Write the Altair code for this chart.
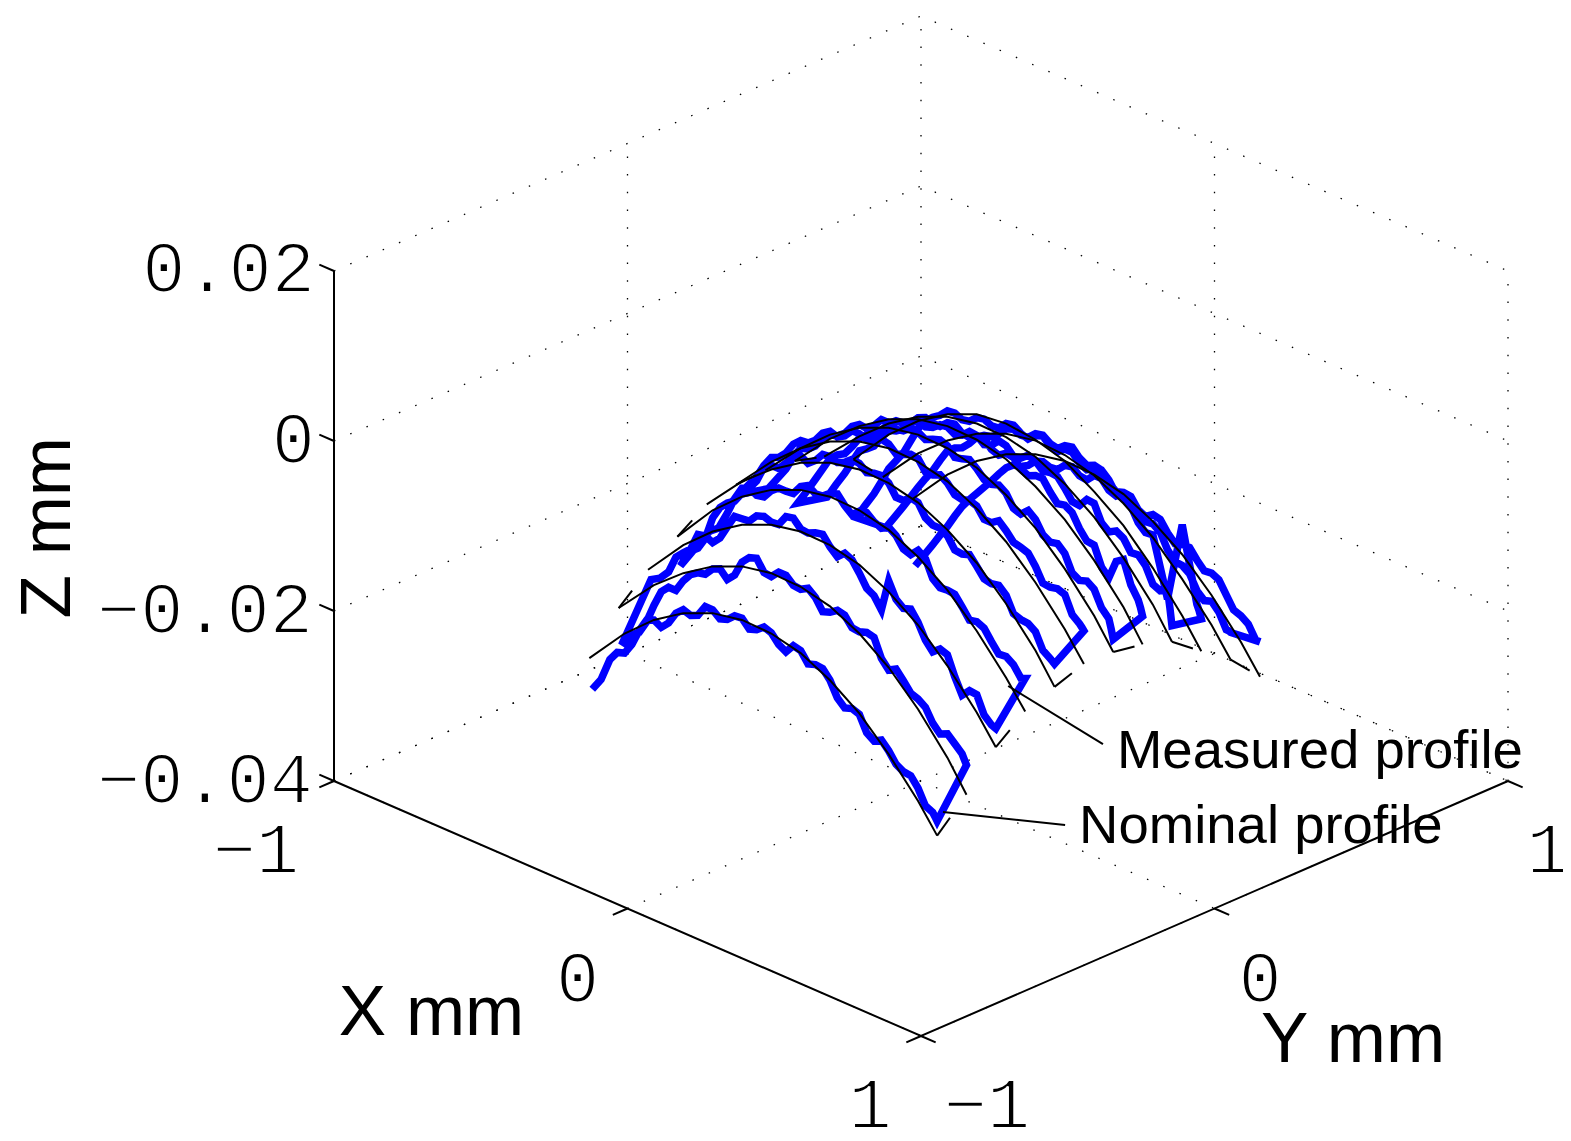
import altair as alt
import pandas as pd

# ---- axis ticks (mm) ----
x_ticks = [-1, 0, 1]
y_ticks = [-1, 0, 1]
z_ticks = [-0.04, -0.02, 0, 0.02]

# ---- scan lines: one fixed Y per profile ----
profile_y = [-0.5, -0.4, -0.3, -0.2, -0.1, 0.0, 0.1, 0.2, 0.3, 0.4, 0.5, 0.6]

# ---- nominal profile, z in 0.1 um ----
nominal_x = [-0.63, -0.51, -0.41, -0.31, -0.21, -0.11, -0.01, 0.09, 0.19, 0.29, 0.39, 0.49, 0.555]
nominal_01 = [-277, -230, -199, -176, -161, -154, -155, -163, -180, -204, -237, -277, -308]
nominal_02 = [-233, -188, -159, -136, -121, -114, -115, -123, -140, -165, -199, -241, -275]
nominal_03 = [-203, -156, -125, -102, -87, -80, -81, -89, -106, -130, -163, -203, -234]
nominal_04 = [-179, -130, -99, -76, -61, -54, -55, -63, -80, -104, -137, -177, -207]
nominal_05 = [-156, -111, -82, -59, -44, -37, -38, -46, -63, -87, -120, -160, -193]
nominal_06 = [-148, -103, -72, -49, -34, -27, -28, -36, -53, -77, -110, -150, -181]
nominal_07 = [-146, -102, -71, -48, -33, -26, -27, -35, -52, -76, -109, -149, -182]
nominal_08 = [-150, -106, -76, -53, -38, -31, -32, -40, -57, -81, -114, -154, -188]
nominal_09 = [-160, -118, -88, -65, -50, -43, -44, -52, -69, -93, -126, -166, -200]
nominal_10 = [-178, -131, -100, -77, -62, -58, -62, -72, -93, -118, -153, -194, -226]
nominal_11 = [-214, -168, -138, -115, -100, -93, -95, -104, -122, -147, -181, -220, -251]
nominal_12 = [-255, -208, -177, -154, -139, -132, -133, -141, -158, -182, -215, -255, -286]

# ---- measured profile, z in 0.1 um ----
measured_x = [-0.62, -0.59, -0.56, -0.535, -0.51, -0.485, -0.46, -0.435, -0.41, -0.385, -0.36, -0.335, -0.31,
              -0.285, -0.26, -0.235, -0.21, -0.185, -0.16, -0.135, -0.11, -0.085, -0.06, -0.035, -0.01,
              0.015, 0.04, 0.065, 0.09, 0.115, 0.14, 0.165, 0.19, 0.215, 0.24, 0.265, 0.29, 0.315, 0.34,
              0.365, 0.39, 0.415, 0.44, 0.465, 0.49, 0.515, 0.54, 0.548, 0.555]
measured_01 = [-312, -296, -268, -256, -253, -239, -219, -203, -199, -204, -195, -180, -172, -175, -171, -157, -157, -164, -161, -153, -152, -161, -158, -151, -154, -164, -169, -158, -160, -172, -169, -170, -180, -197, -205, -202, -205, -223, -229, -224, -233, -245, -250, -251, -262, -279, -283, -287, -291]
measured_02 = [-275, -259, -251, -235, -212, -192, -183, -183, -168, -157, -151, -149, -139, -135, -144, -135, -116, -107, -104, -117, -118, -109, -109, -117, -118, -113, -120, -133, -130, -124, -126, -137, -138, -135, -137, -158, -168, -163, -173, -184, -187, -193, -208, -217, -213, -221, -229, -235, -240]
measured_03 = [-213, -207, -195, -174, -165, -157, -136, -134, -138, -129, -112, -96, -95, -94, -84, -81, -84, -83, -70, -68, -77, -78, -74, -72, -83, -91, -83, -87, -99, -113, -118, -131, -93, -111, -118, -115, -127, -144, -154, -147, -150, -172, -190, -181, -182, -202, -210, -211, -212]
measured_04 = [-212, -191, -182, -167, -139, -123, -114, -108, -95, -85, -90, -88, -77, -70, -70, -69, -57, -52, -58, -57, -50, -47, -57, -64, -56, -54, -61, -65, -60, -66, -78, -81, -72, -78, -98, -105, -104, -105, -116, -128, -126, -130, -142, -153, -152, -158, -170, -169, -168]
measured_05 = [-186, -178, -156, -135, -119, -115, -103, -83, -77, -77, -67, -56, -51, -56, -49, -38, -37, -40, -36, -29, -30, -37, -34, -33, -38, -51, -51, -44, -46, -60, -65, -65, -70, -83, -84, -81, -91, -102, -104, -102, -110, -128, -131, -132, -138, -156, -162, -164, -166]
measured_06 = [-158, -143, -128, -111, -98, -94, -85, -71, -63, -62, -55, -43, -37, -40, -35, -25, -25, -28, -25, -20, -22, -30, -27, -23, -24, -36, -36, -32, -38, -48, -50, -47, -50, -62, -62, -56, -64, -74, -76, -79, -91, -107, -108, -106, -109, -129, -136, -139, -142]
measured_07 = [-166, -150, -134, -116, -102, -99, -92, -79, -71, -69, -62, -50, -44, -45, -38, -27, -27, -31, -29, -22, -23, -28, -24, -21, -24, -34, -32, -29, -36, -45, -47, -44, -50, -64, -67, -59, -66, -80, -85, -83, -91, -110, -115, -112, -118, -136, -145, -156, -167]
measured_08 = [-198, -180, -161, -145, -129, -121, -116, -104, -90, -82, -78, -70, -58, -51, -50, -46, -36, -32, -35, -35, -27, -25, -32, -33, -29, -27, -36, -39, -33, -34, -44, -48, -44, -44, -56, -66, -64, -69, -84, -95, -96, -118, -127, -104, -98, -124, -138, -146, -155]
measured_09 = [-206, -187, -169, -152, -135, -129, -122, -108, -96, -93, -87, -76, -70, -73, -70, -63, -62, -67, -64, -56, -57, -64, -61, -52, -54, -63, -61, -54, -57, -65, -63, -64, -74, -86, -87, -76, -77, -96, -103, -98, -103, -116, -115, -124, -142, -146, -141, -161, -181]
measured_10 = [-245, -226, -208, -190, -171, -158, -145, -127, -109, -96, -88, -82, -73, -72, -76, -74, -66, -64, -68, -67, -58, -56, -62, -65, -57, -54, -62, -65, -58, -58, -67, -71, -66, -64, -72, -85, -86, -91, -107, -115, -114, -148, -182, -134, -87, -130, -173, -180, -188]
measured_11 = [-272, -255, -238, -223, -208, -194, -181, -165, -150, -143, -139, -130, -119, -113, -111, -104, -94, -91, -94, -93, -85, -83, -89, -91, -84, -82, -91, -96, -92, -94, -105, -112, -109, -110, -122, -132, -131, -137, -154, -164, -165, -171, -187, -195, -192, -201, -218, -218, -219]
measured_12 = [-332, -315, -298, -283, -269, -253, -238, -226, -215, -204, -193, -181, -170, -163, -161, -156, -147, -144, -147, -146, -137, -135, -142, -143, -134, -134, -144, -147, -140, -142, -152, -156, -150, -152, -164, -173, -170, -170, -181, -190, -189, -193, -207, -221, -224, -230, -245, -245, -245]

nominal = [nominal_01, nominal_02, nominal_03, nominal_04, nominal_05, nominal_06,
           nominal_07, nominal_08, nominal_09, nominal_10, nominal_11, nominal_12]
measured = [measured_01, measured_02, measured_03, measured_04, measured_05, measured_06,
            measured_07, measured_08, measured_09, measured_10, measured_11, measured_12]

UNIT = 1e-4
DATUM = 0.0002  # height datum of the measured and nominal data


def plane(X, Y, Z):
    """Isometric view of the 3-D axes box."""
    return 921 + 293.5 * (X + Y), 441 + 127.5 * (X - Y) - 8500 * Z


def rows(points, group):
    out = []
    for i, (X, Y, Z) in enumerate(points):
        u, v = plane(X, Y, Z)
        out.append({"u": u, "v": v, "g": group, "i": i})
    return out


# ---- serpentine measured path ----
path = []
for k, (Y, zs) in enumerate(zip(profile_y, measured)):
    pts = [(X, Y, z * UNIT + DATUM) for X, z in zip(measured_x, zs)]
    path += pts if k % 2 == 0 else pts[::-1]
measured_df = pd.DataFrame(rows(path, "measured"))

# ---- nominal profiles and their link stubs ----
nom_rows, link_rows = [], []
for k, (Y, zs) in enumerate(zip(profile_y, nominal)):
    nom_rows += rows([(X, Y, z * UNIT + DATUM) for X, z in zip(nominal_x, zs)], f"n{k}")
for k in range(len(profile_y) - 1):
    end = -1 if k % 2 == 0 else 0
    link_rows += rows([(nominal_x[end], profile_y[k], nominal[k][end] * UNIT + DATUM),
                       (nominal_x[end], profile_y[k + 1], nominal[k + 1][end] * UNIT + DATUM)], f"l{k}")
nominal_df = pd.DataFrame(nom_rows)
link_df = pd.DataFrame(link_rows)

# ---- dotted grid of the 3-D box ----
zlo, zhi = z_ticks[0], z_ticks[-1]
grid_rows = []
g = 0
for X in x_ticks:
    grid_rows += rows([(X, -1, zlo), (X, 1, zlo)], f"g{g}"); g += 1
for Y in y_ticks:
    grid_rows += rows([(-1, Y, zlo), (1, Y, zlo)], f"g{g}"); g += 1
for Z in z_ticks:
    grid_rows += rows([(-1, -1, Z), (-1, 1, Z), (1, 1, Z)], f"g{g}"); g += 1
for X, Y in [(-1, 0), (-1, 1), (0, 1), (1, 1)]:
    grid_rows += rows([(X, Y, zlo), (X, Y, zhi)], f"g{g}"); g += 1
grid_df = pd.DataFrame(grid_rows)

# ---- solid axes and ticks ----
axis_rows = rows([(-1, -1, zhi), (-1, -1, zlo), (1, -1, zlo), (1, 1, zlo)], "axis")
t = 0
TICK = 0.05
for X in x_ticks:
    axis_rows += rows([(X, -1, zlo), (X, -1 - TICK, zlo)], f"t{t}"); t += 1
for Y in y_ticks:
    axis_rows += rows([(1, Y, zlo), (1 + TICK, Y, zlo)], f"t{t}"); t += 1
for Z in z_ticks:
    axis_rows += rows([(-1, -1, Z), (-1 - TICK, -1, Z)], f"t{t}"); t += 1
# annotation leaders, on the floor of the box
axis_rows += rows([(0.159, -0.084, zlo), (0.418, 0.073, zlo)], "lead1")
axis_rows += rows([(-0.224, 0.521, zlo), (0.165, 0.455, zlo)], "lead2")
axis_df = pd.DataFrame(axis_rows)

xs = alt.X("u:Q", scale=alt.Scale(domain=[8, 1563]), axis=None)
ys = alt.Y("v:Q", scale=alt.Scale(domain=[1133, 8]), axis=None)


def line(df, **kw):
    return alt.Chart(df).mark_line(**kw).encode(x=xs, y=ys, detail="g:N", order="i:Q")


def label(text, X, Y, Z, dx, dy, font, size, **kw):
    u, v = plane(X, Y, Z)
    d = pd.DataFrame([{"u": u, "v": v, "t": text}])
    return alt.Chart(d).mark_text(font=font, fontSize=size, dx=dx, dy=dy, baseline="alphabetic",
                                  color="black", **kw).encode(x=xs, y=ys, text="t:N")


MONO = dict(font="Liberation Mono", size=72, stroke="white", strokeWidth=2)
SANS = "Liberation Sans"
layers = [
    line(grid_df, color="black", strokeWidth=1.3, strokeDash=[1.5, 16.2]),
    line(measured_df, color="#0000ff", strokeWidth=7.5, strokeJoin="miter"),
    line(nominal_df, color="black", strokeWidth=2),
    line(link_df, color="black", strokeWidth=2, strokeDash=[22, 1000]),
    line(axis_df, color="black", strokeWidth=2),
    label("0.02", -1, -1, 0.02, -19, 21, align="right", **MONO),
    label("0", -1, -1, 0, -19, 22, align="right", **MONO),
    label("\u22120.02", -1, -1, -0.02, -21, 22, align="right", **MONO),
    label("\u22120.04", -1, -1, -0.04, -21, 22, align="right", **MONO),
    label("\u22121", -1, -1, -0.04, -78, 92, align="center", **MONO),
    label("0", 0, -1, -0.04, -50, 93.5, align="center", **MONO),
    label("1", 1, -1, -0.04, -51, 92, align="center", **MONO),
    label("\u22121", 1, -1, -0.04, 66, 92, align="center", **MONO),
    label("0", 1, 0, -0.04, 45.5, 93.5, align="center", **MONO),
    label("1", 1, 1, -0.04, 40, 92, align="center", **MONO),
    label("X mm", 0, -1, -0.04, -196, 126, SANS, 71, align="center"),
    label("Y mm", 1, 0, -0.04, 138.5, 153.5, SANS, 71, align="center"),
    label("Z mm", -1, -1, -0.0102, 0, -264, SANS, 71, align="center", angle=270),
    label("Measured profile", 0.165, 0.455, -0.04, 14, 24, SANS, 54.5, align="left"),
    label("Nominal profile", 0.418, 0.073, -0.04, 14, 18, SANS, 54.5, align="left"),
]

chart = alt.layer(*layers).properties(
    width=1555, height=1125, padding=0, autosize=alt.AutoSizeParams(type="none")
).configure_view(stroke=None)

chart.save("out.html", embed_options={"renderer": "svg", "actions": False})
